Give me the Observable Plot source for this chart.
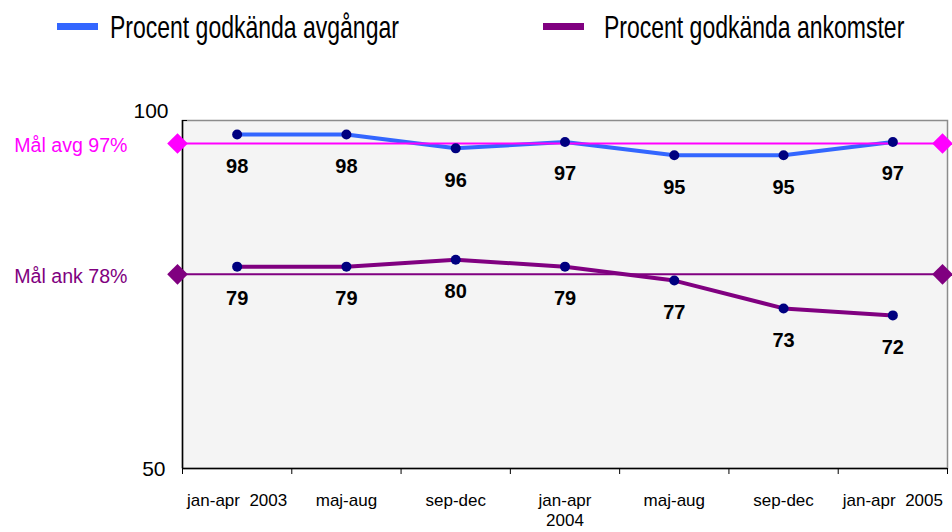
<!DOCTYPE html>
<html><head><meta charset="utf-8">
<script src="https://cdn.jsdelivr.net/npm/d3@7"></script>
<script src="https://cdn.jsdelivr.net/npm/@observablehq/plot@0.6"></script>
<style>
body{margin:0;background:#fff;font-family:"Liberation Sans",Arial,sans-serif;}
#wrap{position:relative;width:952px;height:532px;}
#legend{position:absolute;left:0;top:0;}
svg text{white-space:pre;}
</style></head><body><div id="wrap"></div>
<script>
// ---- data ----
const periods = ["jan-apr  2003", "maj-aug", "sep-dec", "jan-apr\n2004", "maj-aug", "sep-dec", "jan-apr  2005"];
const seriesNames = ["Procent godkända avgångar", "Procent godkända ankomster"];
const departures = [98, 98, 96, 96.9, 95, 95, 96.9];
const arrivals = [79, 79, 80, 79, 77, 73, 72];
const goalValues = [96.7, 77.9];
const goalLabels = ["Mål avg 97%", "Mål ank 78%"];
const yTicks = [50, 100];

// ---- styles ----
const seriesColors = ["#3366ff", "#800080"];
const goalColors = ["#ff00ff", "#800080"];
const dotColor = "#000080";

const xDomain = [-0.5, periods.length - 0.5];
const yDomain = [yTicks[0], yTicks[1]];
const boundaries = d3.range(periods.length + 1).map(i => i - 0.5);
const X = (d, i) => i;

const plot = Plot.plot({
  width: 952, height: 532,
  marginLeft: 182, marginRight: 5, marginTop: 120, marginBottom: 64,
  x: {domain: xDomain, axis: null},
  y: {domain: yDomain, axis: null},
  color: {type: "identity"},
  style: {fontFamily: "Liberation Sans, Arial, sans-serif", background: "transparent", overflow: "visible", color: "#000"},
  marks: [
    Plot.frame({fill: "#f4f4f4", stroke: "#8c8c8c", strokeWidth: 1.5}),
    Plot.ruleY([yDomain[0]], {stroke: "#000", strokeWidth: 1.5}),
    Plot.ruleX([xDomain[0]], {stroke: "#000", strokeWidth: 1.5}),
    Plot.axisX(boundaries, {tickSize: 6, tickFormat: () => "", stroke: "#000"}),
    Plot.axisY(yTicks, {tickSize: -5, tickFormat: () => "", stroke: "#000"}),
    Plot.line(departures, {x: X, y: d => d, stroke: seriesColors[0], strokeWidth: 4}),
    Plot.line(arrivals, {x: X, y: d => d, stroke: seriesColors[1], strokeWidth: 4}),
    Plot.ruleY(goalValues, {y: d => d, stroke: (d, i) => goalColors[i], strokeWidth: 2}),
    Plot.dot(departures, {x: X, y: d => d, r: 5, fill: dotColor}),
    Plot.dot(arrivals, {x: X, y: d => d, r: 5, fill: dotColor}),
    Plot.dot(goalValues, {y: d => d, frameAnchor: "left", symbol: "diamond2", r: 9.3, fill: (d, i) => goalColors[i], dx: -5}),
    Plot.dot(goalValues, {y: d => d, frameAnchor: "right", symbol: "diamond2", r: 9.3, fill: (d, i) => goalColors[i], dx: -5}),
    Plot.text(departures, {x: X, y: d => d, text: d => String(Math.round(d)), dy: 32, fontSize: 20, fontWeight: "bold", fill: "#000", ariaLabel: "vlab"}),
    Plot.text(arrivals, {x: X, y: d => d, text: d => String(Math.round(d)), dy: 32, fontSize: 20, fontWeight: "bold", fill: "#000", ariaLabel: "vlab"}),
    Plot.text(periods, {x: X, text: d => d, frameAnchor: "bottom", lineAnchor: "top", dy: 24, fontSize: 17, lineHeight: 1.15, fill: "#000", ariaLabel: "xlab"}),
    Plot.text([yTicks[1]], {y: d => d, text: d => String(d), frameAnchor: "left", textAnchor: "end", dx: -14, dy: -9.5, fontSize: 21, fill: "#000", ariaLabel: "ylab"}),
    Plot.text([yTicks[0]], {y: d => d, text: d => String(d), frameAnchor: "left", textAnchor: "end", dx: -17, dy: 0.5, fontSize: 21, fill: "#000", ariaLabel: "ylab"}),
    Plot.text(goalValues, {y: d => d, text: (d, i) => goalLabels[i], frameAnchor: "left", textAnchor: "end", dx: -55, dy: 2, fontSize: 19.6, fill: (d, i) => goalColors[i], ariaLabel: "glab"})
  ]
});

// vertical stretch of the text (the reference type is tall and narrow)
function stretch(svg, label, s) {
  svg.querySelectorAll(`g[aria-label="${label}"] text`).forEach(t => {
    let tr = t.getAttribute("transform") || "";
    const x = t.getAttribute("x"), y = t.getAttribute("y");
    if (x != null || y != null) {
      tr += ` translate(${x || 0},${y || 0})`;
      t.setAttribute("x", 0); t.setAttribute("y", 0);
    }
    t.setAttribute("transform", tr + ` scale(1,${s})`);
  });
}
stretch(plot, "vlab", 1.14);
stretch(plot, "xlab", 1.23);
stretch(plot, "ylab", 1.1);
stretch(plot, "glab", 1.24);

const wrap = document.getElementById("wrap");
wrap.appendChild(plot);

// legend
const ns = "http://www.w3.org/2000/svg";
const leg = document.createElementNS(ns, "svg");
leg.setAttribute("id", "legend");
leg.setAttribute("width", 952);
leg.setAttribute("height", 60);
const legX = [57, 543];
seriesNames.forEach((name, i) => {
  const r = document.createElementNS(ns, "rect");
  r.setAttribute("x", legX[i]); r.setAttribute("y", 23);
  r.setAttribute("width", 41); r.setAttribute("height", 7);
  r.setAttribute("fill", seriesColors[i]);
  leg.appendChild(r);
  const t = document.createElementNS(ns, "text");
  t.setAttribute("transform", `translate(${legX[i] + 53 + (i ? 8 : 0)},38) scale(1,1.38)`);
  t.setAttribute("font-size", 23);
  t.setAttribute("font-family", "Liberation Sans, Arial, sans-serif");
  t.setAttribute("fill", "#000");
  t.textContent = name;
  leg.appendChild(t);
});
wrap.appendChild(leg);
</script>
</body></html>
